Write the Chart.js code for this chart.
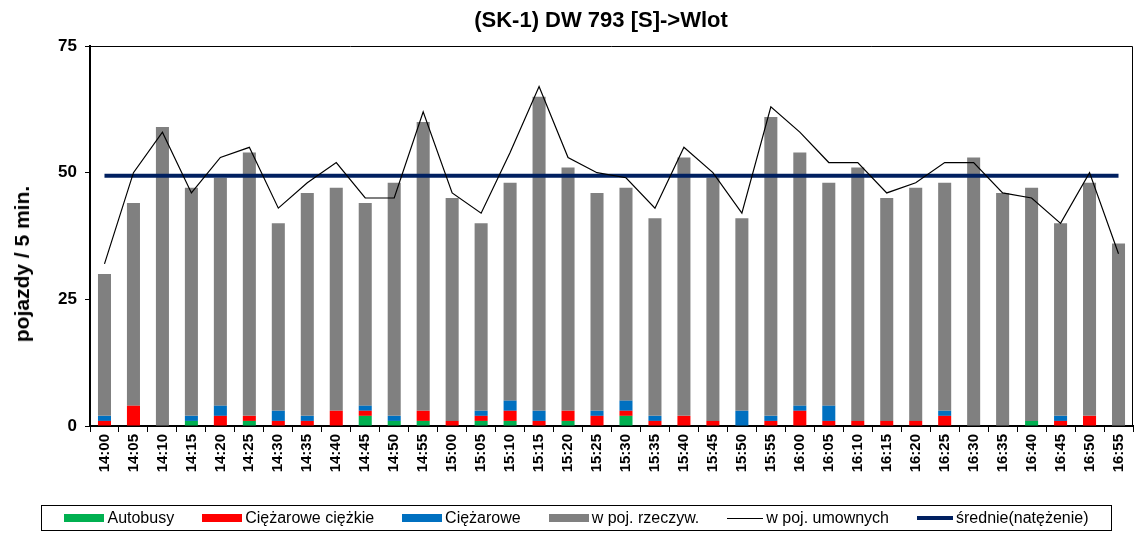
<!DOCTYPE html>
<html lang="pl">
<head>
<meta charset="utf-8">
<title>(SK-1) DW 793 [S]->Wlot</title>
<script src="https://cdn.jsdelivr.net/npm/chart.js@4.4.1/dist/chart.umd.min.js"></script>
<style>
    body { margin: 0; background: #fff; font-family: Arial, "Liberation Sans", sans-serif; color: #000; }
    .wrap { position: relative; width: 1136px; height: 533px; }
    .chart-title { position: absolute; top: 7px; left: 601px; transform: translateX(-50%); font-weight: bold; font-size: 22px; white-space: nowrap; }
    .y-title { position: absolute; left: 22px; top: 264px; transform: translate(-50%, -50%) rotate(-90deg); font-weight: bold; font-size: 21px; white-space: nowrap; }
    .legend { position: absolute; left: 41px; top: 505px; width: 1069px; height: 24px; border: 1px solid #000; display: flex; justify-content: center; align-items: center; gap: 28px; font-size: 16px; }
    .legend-item { display: flex; align-items: center; white-space: nowrap; }
    .legend-item .swatch { width: 40px; margin-right: 3px; }
</style>
</head>
<body>
<div class="wrap">
    <canvas id="chart"></canvas>
    <div class="chart-title">(SK-1) DW 793 [S]-&gt;Wlot</div>
    <div class="y-title">pojazdy / 5 min.</div>
    <div class="legend"></div>
</div>
<script>
// 5-minute intervals
const timeLabels = [
    '14:00', '14:05', '14:10', '14:15', '14:20', '14:25', '14:30', '14:35', '14:40', '14:45', '14:50', '14:55',
    '15:00', '15:05', '15:10', '15:15', '15:20', '15:25', '15:30', '15:35', '15:40', '15:45', '15:50', '15:55',
    '16:00', '16:05', '16:10', '16:15', '16:20', '16:25', '16:30', '16:35', '16:40', '16:45', '16:50', '16:55'
];

// Stacked bars (bottom to top)
const busData =        [0, 0, 0, 1, 0, 1, 0, 0, 0, 2, 1, 1,  0, 1, 1, 0, 1, 0, 2, 0, 0, 0, 0, 0,  0, 0, 0, 0, 0, 0, 0, 0, 1, 0, 0, 0];
const heavyTruckData = [1, 4, 0, 0, 2, 1, 1, 1, 3, 1, 0, 2,  1, 1, 2, 1, 2, 2, 1, 1, 2, 1, 0, 1,  3, 1, 1, 1, 1, 2, 0, 0, 0, 1, 2, 0];
const truckData =      [1, 0, 0, 1, 2, 0, 2, 1, 0, 1, 1, 0,  0, 1, 2, 2, 0, 1, 2, 1, 0, 0, 3, 1,  1, 3, 0, 0, 0, 1, 0, 0, 0, 1, 0, 0];
const restData =       [28, 40, 59, 45, 45, 52, 37, 44, 44, 40, 46, 57,
                        44, 37, 43, 62, 48, 43, 42, 39, 51, 48, 38, 59,
                        50, 44, 50, 44, 46, 45, 53, 46, 46, 38, 46, 36];

// w poj. umownych (line)
const pcuData = [32, 50, 58, 46, 53, 55, 43, 48, 52, 45, 45, 62,
                 46, 42, 54, 67, 53, 50, 49, 43, 55, 50, 42, 63,
                 58, 52, 52, 46, 48, 52, 52, 46, 45, 40, 50, 34];

// średnie(natężenie)
const avgFlow = 49.4;

const yTicks = [0, 25, 50, 75];

// Frame on top and right of the plot area
const plotFrame = {
    id: 'plotFrame',
    afterDraw(chart) {
        const { ctx, chartArea: a } = chart;
        ctx.save();
        ctx.strokeStyle = '#000';
        ctx.lineWidth = 1;
        ctx.beginPath();
        ctx.moveTo(a.left, a.top + 0.5);
        ctx.lineTo(a.right - 0.5, a.top + 0.5);
        ctx.lineTo(a.right - 0.5, a.bottom);
        ctx.stroke();
        ctx.restore();
    }
};

const barSet = (label, data, color) => ({
    type: 'bar',
    label: label,
    data: data,
    backgroundColor: color,
    borderWidth: 0,
    barPercentage: 0.45,
    categoryPercentage: 1,
    stack: 'traffic',
    order: 2
});

const chart = new Chart(document.getElementById('chart'), {
    data: {
        labels: timeLabels,
        datasets: [
            barSet('Autobusy', busData, '#00B050'),
            barSet('Ciężarowe ciężkie', heavyTruckData, '#FF0000'),
            barSet('Ciężarowe', truckData, '#0070C0'),
            barSet('w poj. rzeczyw.', restData, '#808080'),
            {
                type: 'line',
                label: 'w poj. umownych',
                data: pcuData,
                borderColor: '#000',
                borderWidth: 1.2,
                pointRadius: 0,
                tension: 0,
                stack: 'pcu',
                order: 0
            },
            {
                type: 'line',
                label: 'średnie(natężenie)',
                data: timeLabels.map(() => avgFlow),
                borderColor: '#002060',
                borderWidth: 4,
                pointRadius: 0,
                tension: 0,
                stack: 'avg',
                order: 1
            }
        ]
    },
    options: {
        responsive: true,
        maintainAspectRatio: false,
        animation: false,
        layout: {
            padding: { left: 0, right: 3, top: 46, bottom: 37 }
        },
        plugins: {
            legend: { display: false },
            title: { display: false },
            tooltip: { enabled: false }
        },
        scales: {
            x: {
                stacked: true,
                z: 1,
                border: { color: '#000', width: 2 },
                grid: { display: true, drawOnChartArea: false, color: '#000', tickLength: 6, offset: true },
                ticks: {
                    color: '#000',
                    font: { family: 'Arial, "Liberation Sans", sans-serif', size: 15, weight: 'bold' },
                    minRotation: 90,
                    maxRotation: 90,
                    autoSkip: false,
                    padding: 2
                },
                afterFit(scale) {
                    scale.height = 70;
                    scale.paddingLeft = 0;
                    scale.paddingRight = 0;
                }
            },
            y: {
                stacked: true,
                min: 0,
                max: 75,
                z: 1,
                border: { color: '#000', width: 2 },
                grid: { display: true, drawOnChartArea: false, color: '#000', tickLength: 5 },
                ticks: {
                    color: '#000',
                    font: { family: 'Arial, "Liberation Sans", sans-serif', size: 17, weight: 'bold' },
                    padding: 8
                },
                afterBuildTicks(scale) {
                    scale.ticks = yTicks.map(v => ({ value: v }));
                },
                afterFit(scale) {
                    scale.width = 90;
                }
            }
        }
    },
    plugins: [plotFrame]
});

// Build HTML legend from datasets
function buildLegend() {
    const legend = document.querySelector('.legend');
    chart.data.datasets.forEach(ds => {
        const item = document.createElement('span');
        item.className = 'legend-item';
        const swatch = document.createElement('span');
        swatch.className = 'swatch';
        if (ds.type === 'line') {
            swatch.style.height = ds.borderWidth > 2 ? '4px' : '1px';
            swatch.style.background = ds.borderColor;
            swatch.style.width = '36px';
        } else {
            swatch.style.height = '8px';
            swatch.style.background = ds.backgroundColor;
        }
        item.appendChild(swatch);
        item.appendChild(document.createTextNode(ds.label));
        legend.appendChild(item);
    });
}

buildLegend();
</script>
</body>
</html>
